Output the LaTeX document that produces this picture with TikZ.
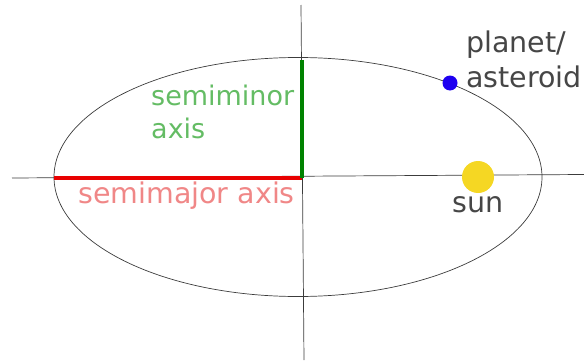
\documentclass[tikz,border=0pt]{standalone}
\usepackage{fontspec}
\usepackage{tikz}
\usetikzlibrary{positioning}
\newfontfamily\labelfont{DejaVu Sans}
\definecolor{axisgray}{RGB}{60, 60, 60}
\definecolor{textgray}{RGB}{70, 70, 70}
\definecolor{majorred}{RGB}{232, 0, 0}
\definecolor{majorpink}{RGB}{240, 135, 135}
\definecolor{minorgreen}{RGB}{0, 130, 0}
\definecolor{minorlight}{RGB}{100, 188, 100}
\definecolor{planetblue}{RGB}{30, 0, 240}
\definecolor{sunyellow}{RGB}{245, 215, 35}

\begin{document}
\begin{tikzpicture}[x=1pt, y=1pt,
    lbl/.style={inner sep=0pt, align=left, font=\labelfont\fontsize{28.5}{34}\selectfont}]
  \useasboundingbox (0, 0) rectangle (584, 360);

  % Axes
  \coordinate (W) at (12, 182);
  \coordinate (E) at (584, 185.5);
  \coordinate (N) at (301, 355);
  \coordinate (S) at (304, 0);
  \coordinate (O) at (302, 182);
  \draw[axisgray, line width=0.7pt] (W) -- (E);
  \draw[axisgray, line width=0.7pt] (N) -- (S);

  % Orbit
  \draw[axisgray, line width=0.7pt] (298, 183) ellipse [x radius=244, y radius=119.5];

  % Semi-axes
  \coordinate (A) at (54, 182);
  \coordinate (B) at (302, 300);
  \draw[majorred, line width=4pt] (A) -- (O);
  \draw[minorgreen, line width=3.5pt] (O) -- (B);

  % Bodies
  \node[circle, fill=planetblue, minimum size=15pt, inner sep=0pt] (planet) at (450, 277) {};
  \node[circle, fill=sunyellow, minimum size=32pt, inner sep=0pt] (sun) at (478, 183) {};

  % Labels (base anchor sits on the last line)
  \node[lbl, textgray, below=3pt of sun] (sunlbl) {sun};
  \node[lbl, textgray, anchor=base west] (planetlbl) at (466, 273) {planet/\\[1pt]asteroid};
  \node[lbl, minorlight, anchor=base west, font=\labelfont\fontsize{27}{33}\selectfont] (minorlbl) at (151, 222) {semiminor\\axis};
  \node[lbl, majorpink, anchor=base east] (majorlbl) at (295, 157) {semimajor axis};
\end{tikzpicture}
\end{document}
